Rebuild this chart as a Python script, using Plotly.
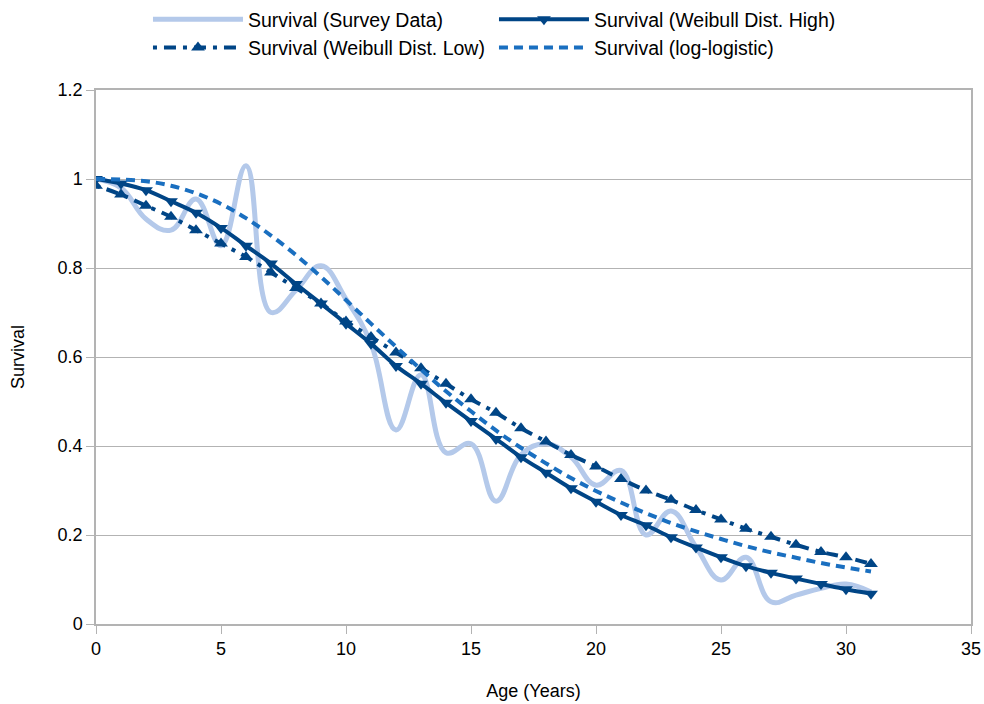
import plotly.graph_objects as go

age = list(range(0, 32))

survey = [1.0, 0.98, 0.91, 0.885, 0.955, 0.85, 1.03, 0.70, 0.75, 0.805, 0.73, 0.63,
          0.436, 0.56, 0.385, 0.405, 0.276, 0.38, 0.405, 0.375, 0.312, 0.345, 0.20,
          0.254, 0.173, 0.099, 0.15, 0.05, 0.065, 0.08, 0.09, 0.072]

weibull_high = [1.0, 0.99, 0.975, 0.95, 0.924, 0.89, 0.85, 0.81, 0.764, 0.72, 0.675, 0.63,
                0.58, 0.54, 0.497, 0.456, 0.416, 0.375, 0.34, 0.305, 0.275, 0.245, 0.222,
                0.195, 0.172, 0.15, 0.13, 0.115, 0.102, 0.09, 0.078, 0.068]

weibull_low = [0.985, 0.965, 0.94, 0.915, 0.885, 0.855, 0.825, 0.79, 0.755, 0.72, 0.68, 0.645,
               0.61, 0.575, 0.54, 0.505, 0.475, 0.44, 0.41, 0.38, 0.354, 0.326, 0.30,
               0.279, 0.256, 0.235, 0.214, 0.196, 0.178, 0.162, 0.15, 0.135]

log_logistic = [1.0, 0.999, 0.995, 0.985, 0.968, 0.944, 0.912, 0.873, 0.829, 0.78, 0.728, 0.675,
                0.623, 0.572, 0.523, 0.478, 0.435, 0.396, 0.361, 0.328, 0.299, 0.273, 0.249,
                0.227, 0.208, 0.191, 0.175, 0.161, 0.149, 0.137, 0.127, 0.118]

names = ["Survival (Survey Data)", "Survival (Weibull Dist. High)",
         "Survival (Weibull Dist. Low)", "Survival (log-logistic)"]

LIGHT = "#b4c9ea"
DARK = "#004586"
MID = "#1a6fc0"

fig = go.Figure()
fig.add_trace(go.Scatter(x=age, y=survey, name=names[0], mode="lines",
                         line=dict(color=LIGHT, width=5, shape="spline", smoothing=1.2)))
fig.add_trace(go.Scatter(x=age, y=weibull_high, name=names[1], mode="lines+markers",
                         line=dict(color=DARK, width=4, shape="spline"),
                         marker=dict(symbol="triangle-down", size=12, color=DARK)))
fig.add_trace(go.Scatter(x=age, y=weibull_low, name=names[2], mode="lines+markers",
                         line=dict(color=DARK, width=4, shape="spline", dash="4px,7px,12px,7px"),
                         marker=dict(symbol="triangle-up", size=12, color=DARK)))
fig.add_trace(go.Scatter(x=age, y=log_logistic, name=names[3], mode="lines",
                         line=dict(color=MID, width=4, shape="spline", dash="9px,6px")))

GRID = "#b3b3b3"
fig.update_layout(
    width=984, height=704,
    margin=dict(l=96, r=13, t=90, b=80, autoexpand=False),
    paper_bgcolor="white", plot_bgcolor="white",
    font=dict(family="Liberation Sans, Arial, sans-serif", size=18, color="#000000"),
    legend=dict(orientation="h", x=0.0594, y=1.1685, xanchor="left", yanchor="top",
                entrywidth=241, entrywidthmode="pixels", itemwidth=90,
                font=dict(size=19.5), traceorder="normal", bgcolor="rgba(0,0,0,0)"),
    xaxis=dict(range=[0, 35], dtick=5, tick0=0, showgrid=False, showline=True, mirror=True,
               linecolor=GRID, linewidth=1.5, ticks="outside", ticklen=8, tickcolor=GRID,
               zeroline=False, automargin=False, tickfont=dict(size=18),
               title=dict(text="Age (Years)", font=dict(size=18), standoff=26)),
    yaxis=dict(range=[0, 1.2], dtick=0.2, tick0=0, showgrid=True, gridcolor=GRID, gridwidth=1.2,
               showline=True, mirror=True, linecolor=GRID, linewidth=1.5, ticks="outside",
               ticklen=8, tickcolor=GRID, zeroline=False, automargin=False,
               tickfont=dict(size=18),
               title=dict(text="Survival", font=dict(size=18), standoff=28)),
)

fig.write_html("out.html", config={"displayModeBar": False},
               post_script="document.body.style.margin='0';document.body.style.overflow='hidden';")
